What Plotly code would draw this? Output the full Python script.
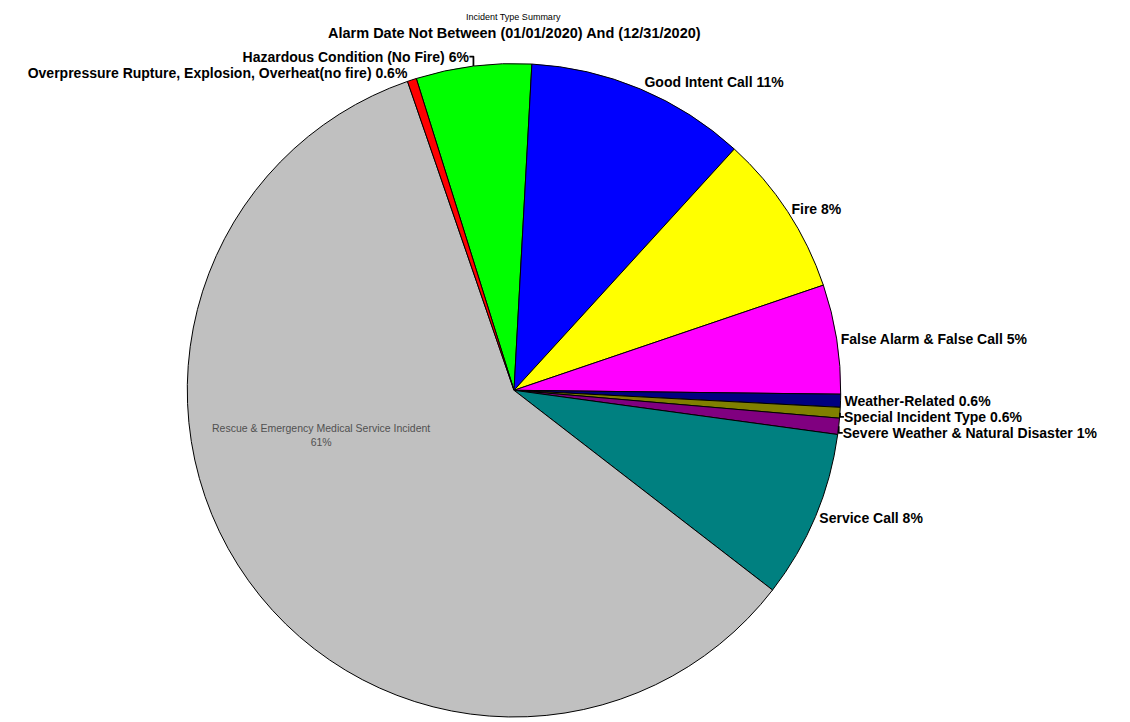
import plotly.graph_objects as go

# Slice order (clockwise, starting at the Hazardous Condition slice)
categories = [
    "Hazardous Condition (No Fire)",
    "Good Intent Call",
    "Fire",
    "False Alarm & False Call",
    "Weather-Related",
    "Special Incident Type",
    "Severe Weather & Natural Disaster",
    "Service Call",
    "Rescue & Emergency Medical Service Incident",
    "Overpressure Rupture, Explosion, Overheat(no fire)",
]
values = [5.7, 10.9, 8.0, 5.4, 0.64, 0.53, 0.8, 8.3, 59.2, 0.45]
pct_labels = ["6%", "11%", "8%", "5%", "0.6%", "0.6%", "1%", "8%", "61%", "0.6%"]
colors = ["#00FF00", "#0000FF", "#FFFF00", "#FF00FF", "#000080",
          "#808000", "#800080", "#008080", "#C0C0C0", "#FF0000"]

inside_label = "Rescue & Emergency Medical Service Incident"

texts = []
positions = []
for c, p in zip(categories, pct_labels):
    if c == inside_label:
        texts.append("")
        positions.append("none")
    else:
        texts.append(f"{c} {p}")
        positions.append("outside")

W, H = 1130, 722
cx, cy, r = 514, 393, 329
y0 = max(0.0, (H - cy - r) / H)
y1 = min(1.0, (H - cy + r) / H)

fig = go.Figure(go.Pie(
    labels=categories,
    values=values,
    text=texts,
    textinfo="text",
    textposition=positions,
    sort=False,
    direction="clockwise",
    rotation=-17.4,
    marker=dict(colors=colors, line=dict(color="#000000", width=1)),
    textfont=dict(family="Liberation Sans", size=14, color="#000000", weight="bold"),
    outsidetextfont=dict(family="Liberation Sans", size=14, color="#000000", weight="bold"),
    domain=dict(x=[(cx - r) / W, (cx + r) / W], y=[y0, y1]),
    hoverinfo="label+percent",
    showlegend=False,
))

ri = categories.index(inside_label)
fig.add_annotation(
    x=321 / W, y=1 - 438 / H, xref="paper", yref="paper",
    xanchor="center", yanchor="middle",
    text=f"{categories[ri]}<br>{pct_labels[ri]}",
    showarrow=False, align="center",
    font=dict(family="Liberation Sans", size=10.5, color="#505050"),
)
fig.add_annotation(
    x=513 / W, y=1 - 17 / H, xref="paper", yref="paper",
    xanchor="center", yanchor="middle",
    text="Incident Type Summary", showarrow=False,
    font=dict(family="Liberation Sans", size=9, color="#000000"),
)
fig.add_annotation(
    x=514 / W, y=1 - 33 / H, xref="paper", yref="paper",
    xanchor="center", yanchor="middle",
    text="<b>Alarm Date Not Between (01/01/2020) And (12/31/2020)</b>", showarrow=False,
    font=dict(family="Liberation Sans", size=14.5, color="#000000"),
)

fig.update_layout(
    width=W, height=H,
    margin=dict(l=0, r=0, t=0, b=0),
    paper_bgcolor="white",
    plot_bgcolor="white",
)

fig.write_html("out.html")
